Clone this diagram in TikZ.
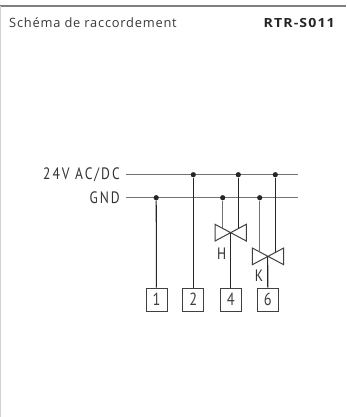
\documentclass[tikz,border=0pt]{standalone}
\usepackage{fontspec}
\setmainfont{PT Sans}
\newfontfamily\headfont[LetterSpace=6]{Open Sans}
\newfontfamily\headbold[LetterSpace=9,FakeStretch=1.12]{Open Sans}
\newfontfamily\isofont[LetterSpace=12,FakeStretch=0.82]{PT Sans}
\begin{document}
\begin{tikzpicture}[x=1pt,y=-1pt,
  bus/.style={draw=black!55,line width=1.2pt},
  wire/.style={draw=black!85,line width=1.05pt},
  wiregrey/.style={draw=black!55,line width=1.2pt},
  valveline/.style={draw=black!75,line width=1pt},
  term/.style={draw=black!75,line width=1pt,fill=white,minimum width=21pt,minimum height=23pt,inner sep=0pt,font=\isofont\fontsize{17.5}{17.5}\selectfont,text=black!75},
  dot/.style={circle,fill=black!85,inner sep=0pt,minimum size=5.2pt},
  lab/.style={inner sep=0pt,font=\isofont\fontsize{16.5}{16.5}\selectfont,text=black!80},
  head/.style={inner sep=0pt,text=black!78}]
\useasboundingbox (0,0) rectangle (346,417);
\draw[draw=black!50,line width=1.6pt] (0,6) -- (346,6);
\draw[draw=black!18,line width=1.4pt] (0.7,6) -- (0.7,417);
\node[head,anchor=west,font=\headfont\fontsize{12.85}{14}\selectfont] (title) at (9,22.5) {Schéma de raccordement};
\node[head,anchor=east,font=\headbold\bfseries\fontsize{12.6}{14}\selectfont,text=black!85] (code) at (335,22.5) {RTR-S011};
% labels and bus ends
\node[lab,anchor=east] (v24) at (120,174.7) {24V AC/DC};
\node[lab,anchor=east] (gnd) at (120,197.7) {GND};
\coordinate (b1s) at (125.7,174.7); \coordinate (b1e) at (297.7,174.7);
\coordinate (b2s) at (125.7,197.7); \coordinate (b2e) at (297.7,197.7);
\draw[bus] (b1s) -- (b1e);
\draw[bus] (b2s) -- (b2e);
% terminals
\node[term] (t1) at (156.5,299.5) {1};
\node[term] (t2) at (193.3,299.5) {2};
\node[term] (t4) at (230.7,299.5) {4};
\node[term] (t6) at (267.8,299.5) {6};
% junctions
\node[dot] (d1) at (156.2,197.7) {};
\node[dot] (d2) at (193.3,174.7) {};
\node[dot] (d3) at (238.3,174.7) {};
\node[dot] (d4) at (275.3,174.7) {};
\node[dot] (d5) at (222.7,197.7) {};
\node[dot] (d6) at (259.7,197.7) {};
% valve H
\coordinate (hc) at (230.7,232.7);
\coordinate (hl) at (222.7,228); \coordinate (hr) at (238.3,228);
\draw[valveline] (215,224.3) -- (246.3,241) -- (246.3,224.3) -- (215,241) -- cycle;
% valve K
\coordinate (kc) at (267.7,256.3);
\coordinate (kl) at (259.7,251.8); \coordinate (kr) at (275.3,251.8);
\draw[valveline] (252.3,248) -- (283.7,264.7) -- (283.7,248) -- (252.3,264.7) -- cycle;
% wires
\draw[wire] (d1) -- (t1);
\draw[wire] (d2) -- (t2);
\draw[wire] (d3) -- (hr);
\draw[wire] (d4) -- (kr);
\draw[wiregrey] (d5) -- (hl);
\draw[wiregrey] (d6) -- (kl);
\draw[wire] (hc) -- (t4);
\draw[wire] (kc) -- (t6);
\node[lab] (hlab) at (221.7,253.3) {H};
\node[lab] (klab) at (259,275.3) {K};
\end{tikzpicture}
\end{document}
